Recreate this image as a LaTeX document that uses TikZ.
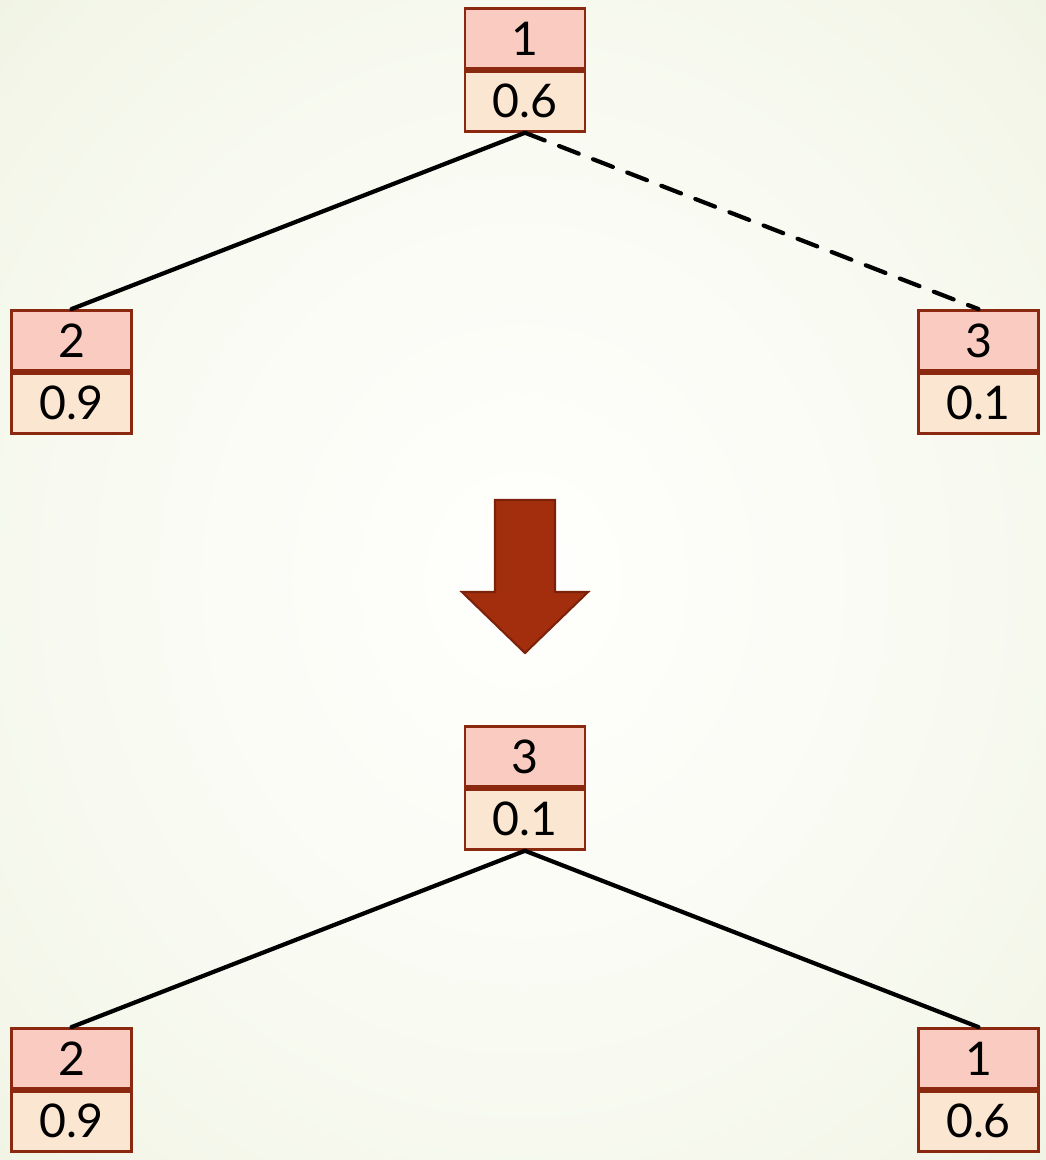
\documentclass[tikz,border=0pt]{standalone}
\usepackage{fontspec}
\setmainfont{Lato}
\usetikzlibrary{positioning}
\definecolor{keyfill}{HTML}{F9CBC1}
\definecolor{probfill}{HTML}{FBE6D1}
\definecolor{boxline}{HTML}{8B2810}
\definecolor{arrowfill}{HTML}{A22E0E}
\definecolor{arrowline}{HTML}{7C220A}
\definecolor{bgin}{HTML}{FFFFFD}
\definecolor{bgnear}{HTML}{F8FAF1}
\definecolor{bgmid}{HTML}{E9EED7}
\definecolor{bgout}{HTML}{E3E9CC}
\pgfdeclareradialshading{bgshade}{\pgfpoint{0bp}{0bp}}{%
  color(0bp)=(bgin); color(22bp)=(bgnear); color(50bp)=(bgmid);
  color(71bp)=(bgout)}
\tikzset{
  keybox/.style={draw=boxline, fill=keyfill, line width=2pt,
    minimum width=3cm, minimum height=1.5cm,
    font=\fontsize{33}{36}\selectfont},
  probbox/.style={keybox, fill=probfill},
  link/.style={line width=3pt, line cap=round},
}
\begin{document}
\begin{tikzpicture}[x=0.025cm,y=-0.025cm]
  \shade[shading=bgshade] (0,0) rectangle (1046,1160);
  \useasboundingbox (0,0) rectangle (1046,1160);
  % before
  \draw
    (525,38.5) node[keybox] (t1){1}
    (71.5,340.5) node[keybox] (t2){2}
    (978.5,340.5) node[keybox] (t3){3};
  \node[probbox, below=0pt of t1] (t1v){0.6};
  \node[probbox, below=0pt of t2] (t2v){0.9};
  \node[probbox, below=0pt of t3] (t3v){0.1};
  \begin{scope}[link]
    \draw (t1v.south) to (t2.north);
    \draw[dash pattern=on 15pt off 11pt] (t1v.south) to (t3.north);
  \end{scope}
  % arrow
  \draw[arrowline, fill=arrowfill, line width=1.5pt, line join=miter]
    (495,500) -- (555,500) -- (555,592) -- (588,592) -- (525,653)
    -- (462,592) -- (495,592) -- cycle;
  % after
  \draw
    (525,756.5) node[keybox] (b3){3}
    (71.5,1058.5) node[keybox] (b2){2}
    (978.5,1058.5) node[keybox] (b1){1};
  \node[probbox, below=0pt of b3] (b3v){0.1};
  \node[probbox, below=0pt of b2] (b2v){0.9};
  \node[probbox, below=0pt of b1] (b1v){0.6};
  \begin{scope}[link]
    \draw (b3v.south) to (b2.north);
    \draw (b3v.south) to (b1.north);
  \end{scope}
\end{tikzpicture}
\end{document}
